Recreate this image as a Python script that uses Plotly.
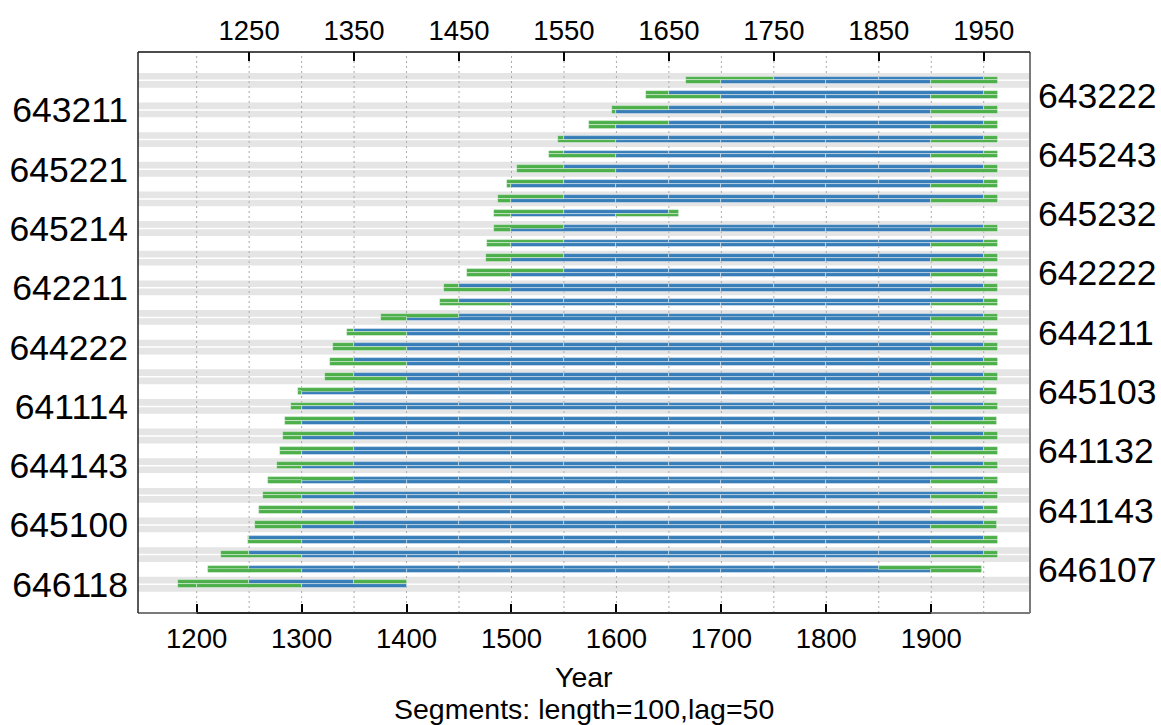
import plotly.graph_objects as go

# ---------------- data ----------------
# series are numbered 1 (bottom) .. 35 (top)
series_start = [1182, 1211, 1223, 1249, 1256, 1259, 1263, 1268, 1277, 1279,
                1282, 1284, 1290, 1297, 1322, 1327, 1330, 1343, 1376, 1432,
                1436, 1458, 1476, 1477, 1483, 1483, 1487, 1496, 1505, 1536,
                1544, 1574, 1596, 1628, 1666]
series_end = [1400, 1948, 1964, 1964, 1963, 1964, 1964, 1964, 1964, 1964,
              1964, 1963, 1964, 1963, 1964, 1964, 1964, 1964, 1964, 1964,
              1964, 1964, 1964, 1964, 1964, 1660, 1964, 1964, 1964, 1964,
              1964, 1964, 1964, 1964, 1964]

left_label_idx = [1, 5, 9, 13, 17, 21, 25, 29, 33]
left_label_text = ["646118", "645100", "644143", "641114", "644222",
                   "642211", "645214", "645221", "643211"]
right_label_idx = [2, 6, 10, 14, 18, 22, 26, 30, 34]
right_label_text = ["646107", "641143", "641132", "645103", "644211",
                    "642222", "645232", "645243", "643222"]

seg_length = 100
seg_lag = 50
lower_bins = list(range(1100, 2000, 100))   # segment start years, lower row
upper_bins = list(range(1150, 2000, 100))   # segment start years, upper row
# complete segments that still have no significant correlation (drawn green)
no_corr_segments = [(1, 1200)]

grid_years = list(range(1200, 2000, 50))
bottom_ticks = list(range(1200, 2000, 100))
top_ticks = list(range(1250, 2000, 100))

BLUE = "#377EB8"
GREEN = "#4DAF4A"
BAND = "#E5E5E5"
FONT = "Liberation Sans, Arial, sans-serif"

# ---------------- build segments ----------------
blue_y, blue_base, blue_len = [], [], []
green_y, green_base, green_len = [], [], []
for i, (s, e) in enumerate(zip(series_start, series_end), start=1):
    for bins, yc in ((upper_bins, i - 0.375), (lower_bins, i - 0.625)):
        for b in bins:
            a = max(b, s)
            z = min(b + seg_length, e)
            if z <= a:
                continue
            complete = s <= b and b + seg_length <= e
            if complete and (i, b) not in no_corr_segments:
                blue_y.append(yc); blue_base.append(a); blue_len.append(z - a)
            else:
                green_y.append(yc); green_base.append(a); green_len.append(z - a)

nseries = len(series_start)
XR = [1144.1, 1994.1]
YR = [-1.44, nseries + 1.41]

fig = go.Figure()
edge = dict(color="rgba(255,255,255,0.55)", width=0.8)
fig.add_trace(go.Bar(orientation="h", y=blue_y, x=blue_len, base=blue_base,
                     width=0.26, marker=dict(color=BLUE, line=edge),
                     showlegend=False, hoverinfo="skip", xaxis="x", yaxis="y"))
fig.add_trace(go.Bar(orientation="h", y=green_y, x=green_len, base=green_base,
                     width=0.26, marker=dict(color=GREEN, line=edge),
                     showlegend=False, hoverinfo="skip", xaxis="x2", yaxis="y2"))

shapes = []
for i in range(1, nseries + 1, 2):
    shapes.append(dict(type="rect", xref="paper", yref="y", x0=0, x1=1,
                       y0=i - 1, y1=i, fillcolor=BAND, line_width=0, layer="below"))
    shapes.append(dict(type="line", xref="paper", yref="y", x0=0, x1=1,
                       y0=i - 0.5, y1=i - 0.5, line=dict(color="white", width=1.5),
                       layer="below"))
for g in grid_years:
    shapes.append(dict(type="line", xref="x", yref="paper", x0=g, x1=g, y0=0, y1=1,
                       line=dict(color="#ABABAB", width=1, dash="2px,3px"),
                       layer="below"))
# frame
shapes += [
    dict(type="line", xref="paper", yref="paper", x0=1, x1=1, y0=0, y1=1,
         line=dict(color="#7a7a7a", width=2)),
    dict(type="line", xref="paper", yref="paper", x0=0, x1=1, y0=0, y1=0,
         line=dict(color="#7a7a7a", width=2)),
    dict(type="line", xref="paper", yref="paper", x0=0, x1=0, y0=0, y1=1,
         line=dict(color="#222222", width=1.5)),
    dict(type="line", xref="paper", yref="paper", x0=0, x1=1, y0=1, y1=1,
         line=dict(color="#111111", width=1.5)),
    dict(type="line", xref="x", yref="paper", x0=bottom_ticks[0], x1=bottom_ticks[-1],
         y0=0, y1=0, line=dict(color="#111111", width=1.5)),
]

H = 725
mt, mb = 52, 112
ph = H - mt - mb

def py(pix):
    return (H - mb - pix) / ph

fig.update_layout(
    width=1161, height=H,
    margin=dict(l=138, r=131, t=mt, b=mb, autoexpand=False),
    paper_bgcolor="white", plot_bgcolor="white",
    barmode="overlay", bargap=0,
    font=dict(family=FONT, color="black"),
    shapes=shapes,
    xaxis=dict(range=XR, tickvals=bottom_ticks, ticks="inside", ticklen=9,
               tickwidth=1.5, tickcolor="black", showgrid=False, zeroline=False,
               showline=False, tickfont=dict(size=27.5), ticklabelstandoff=6,
               automargin=False),
    xaxis2=dict(range=XR, overlaying="x", side="top", anchor="y2", tickvals=top_ticks,
                ticks="inside", ticklen=9, tickwidth=1.5, tickcolor="black",
                showgrid=False, zeroline=False, showline=False,
                tickfont=dict(size=27.5), ticklabelstandoff=6, automargin=False),
    yaxis=dict(range=YR, tickvals=[k - 0.5 for k in left_label_idx],
               ticktext=left_label_text, ticks="", showgrid=False, zeroline=False,
               showline=False, tickfont=dict(size=35.5), ticklabelstandoff=9,
               automargin=False),
    yaxis2=dict(range=YR, overlaying="y", side="right", anchor="x2",
                tickvals=[k - 0.5 for k in right_label_idx],
                ticktext=right_label_text, ticks="", showgrid=False, zeroline=False,
                showline=False, tickfont=dict(size=35.5), ticklabelstandoff=7,
                automargin=False),
    annotations=[
        dict(text="Year", xref="paper", yref="paper", x=0.5, y=py(677),
             xanchor="center", yanchor="middle", showarrow=False,
             font=dict(size=28.5)),
        dict(text="Segments: length=%d,lag=%d" % (seg_length, seg_lag),
             xref="paper", yref="paper", x=0.5, y=py(709), xanchor="center",
             yanchor="middle", showarrow=False, font=dict(size=28.5)),
    ],
)

fig.write_html("out.html")
